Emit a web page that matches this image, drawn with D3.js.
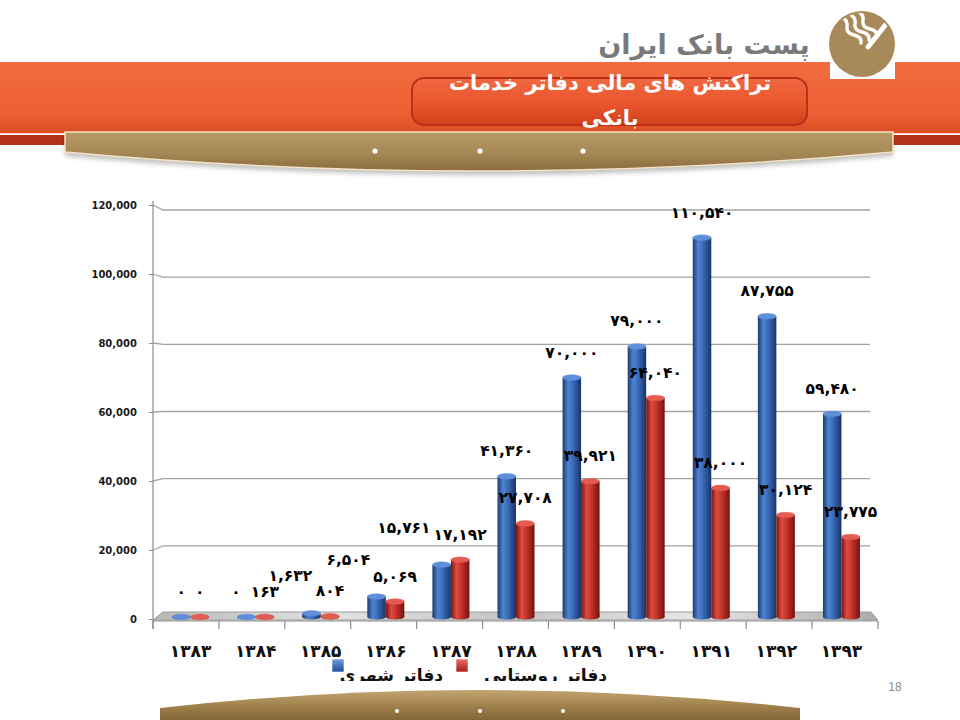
<!DOCTYPE html>
<html>
<head>
<meta charset="utf-8">
<script src="https://cdn.jsdelivr.net/npm/d3@7/dist/d3.min.js"></script>
<style>
  body { margin: 0; background: #fff; }
  svg { display: block; font-family: "DejaVu Sans", sans-serif; }
</style>
</head>
<body>
<div id="chart"></div>
<script>
// 1. Data
const years = ["1383", "1384", "1385", "1386", "1387", "1388", "1389", "1390", "1391", "1392", "1393"];
const urban = [0, 0, 1632, 6504, 15761, 41360, 70000, 79000, 110540, 87755, 59480];   // blue
const rural = [0, 163, 804, 5069, 17192, 27708, 39921, 64040, 38000, 30124, 23775];   // red
const yTicks = [0, 20000, 40000, 60000, 80000, 100000, 120000];
const seriesNames = ["دفاتر شهری", "دفاتر روستایی"];
const titleLines = ["تراکنش های مالی دفاتر خدمات", "بانکی"];
const brandName = "پست بانک ایران";
const pageNo = "18";

const faDigits = "۰۱۲۳۴۵۶۷۸۹";
const toFa = s => String(s).replace(/\d/g, d => faDigits[d]);
const fmt = d3.format(",");

const W = 960, H = 720;
const svg = d3.select("#chart").append("svg")
    .attr("width", W)
    .attr("height", H);

const defs = svg.append("defs");

function linGrad(id, horizontal, stops) {
    const g = defs.append("linearGradient").attr("id", id)
        .attr("x1", 0).attr("y1", 0)
        .attr("x2", horizontal ? 1 : 0).attr("y2", horizontal ? 0 : 1);
    stops.forEach(s => g.append("stop").attr("offset", s[0]).attr("stop-color", s[1]));
}
linGrad("band", false, [[0, "#F26C3F"], [0.7, "#EC5F34"], [1, "#DC4C24"]]);
linGrad("titleBox", false, [[0, "#F06840"], [0.55, "#E9562E"], [1, "#D2401A"]]);
linGrad("tan", false, [[0, "#B99A66"], [0.5, "#A88A57"], [1, "#8A6C3E"]]);
linGrad("tanFoot", false, [[0, "#C2A472"], [0.45, "#A4844F"], [1, "#7E6134"]]);
linGrad("blueBar", true, [[0, "#1B3B72"], [0.3, "#4F83D0"], [0.55, "#3A6CBA"], [1, "#183466"]]);
linGrad("redBar", true, [[0, "#7A1310"], [0.3, "#DE4B41"], [0.55, "#C6342B"], [1, "#74120E"]]);
linGrad("floor", true, [[0, "#B8B8B8"], [0.25, "#E2E2E2"], [0.5, "#C4C4C4"], [0.75, "#E6E6E6"], [1, "#ABABAB"]]);
linGrad("blueKey", false, [[0, "#6E9BE0"], [1, "#1F4E9A"]]);
linGrad("redKey", false, [[0, "#EE7068"], [1, "#A61D16"]]);

const blur = defs.append("filter").attr("id", "soft").attr("x", "-5%").attr("y", "-20%").attr("width", "110%").attr("height", "160%");
blur.append("feGaussianBlur").attr("stdDeviation", 2.5);

// 2. Slide header
svg.append("rect").attr("x", 0).attr("y", 62).attr("width", W).attr("height", 72).attr("fill", "url(#band)");
svg.append("line").attr("x1", 0).attr("x2", W).attr("y1", 134).attr("y2", 134).attr("stroke", "#fff").attr("stroke-width", 1.5);
svg.append("rect").attr("x", 0).attr("y", 135).attr("width", W).attr("height", 10).attr("fill", "#B3301A");

// logo
svg.append("rect").attr("x", 830).attr("y", 62).attr("width", 65).attr("height", 17).attr("fill", "#fff");
svg.append("circle").attr("cx", 862).attr("cy", 44).attr("r", 33).attr("fill", "#A8895A");
defs.append("clipPath").attr("id", "logoClip").append("circle").attr("cx", 862).attr("cy", 44).attr("r", 31);
const logo = svg.append("g").attr("clip-path", "url(#logoClip)")
    .attr("fill", "none").attr("stroke", "#fff").attr("stroke-linecap", "round");
[0, 1, 2].forEach(i => {
    logo.append("path")
        .attr("d", `M${843 + i * 8},${18 - i * 3} q5,3 4,9 t7,8 t7,8`)
        .attr("stroke-width", 3.4);
});
logo.append("path").attr("d", "M868,47 L887,23").attr("stroke-width", 5);

svg.append("text")
    .attr("x", 704).attr("y", 44)
    .attr("text-anchor", "middle").attr("dominant-baseline", "central")
    .attr("font-size", 27).attr("font-weight", "bold").attr("fill", "#7A7A7A")
    .text(brandName);

// title box
svg.append("rect")
    .attr("x", 412).attr("y", 78).attr("width", 395).attr("height", 47).attr("rx", 12)
    .attr("fill", "url(#titleBox)").attr("stroke", "#B8301A").attr("stroke-width", 2);
titleLines.forEach((t, i) => {
    svg.append("text")
        .attr("x", 610).attr("y", 83 + i * 35)
        .attr("text-anchor", "middle").attr("dominant-baseline", "central")
        .attr("font-size", 21).attr("font-weight", "bold").attr("fill", "#fff")
        .text(t);
});

// tan banner with dots
const bannerPath = "M65,132 L893,132 L893,152 Q479,190 65,152 Z";
svg.append("path").attr("d", bannerPath).attr("transform", "translate(0,4)").attr("fill", "#000").attr("opacity", 0.25).attr("filter", "url(#soft)");
svg.append("path").attr("d", bannerPath).attr("fill", "url(#tan)").attr("stroke", "#F3E3C3").attr("stroke-width", 1.5);
[375, 480, 583].forEach(x => svg.append("circle").attr("cx", x).attr("cy", 151).attr("r", 2.6).attr("fill", "#fff"));

// footer
const footPath = "M160,722 L160,708 Q480,672 800,708 L800,722 Z";
svg.append("path").attr("d", footPath).attr("fill", "url(#tanFoot)");
[397, 480, 563].forEach(x => svg.append("circle").attr("cx", x).attr("cy", 711).attr("r", 2).attr("fill", "#fff"));
svg.append("text").attr("x", 895).attr("y", 687)
    .attr("text-anchor", "middle").attr("dominant-baseline", "central")
    .attr("font-size", 12).attr("fill", "#8A8A8A").attr("font-family", "Liberation Sans, sans-serif")
    .text(pageNo);

// 3. Scales
const xFront = d3.scaleBand().domain(years).range([153, 878]);   // front edge of the floor
const xMid = d3.scaleBand().domain(years).range([158, 874]);     // plane the bars stand on
const xSeries = d3.scaleBand().domain([0, 1]).range([-18.5, 18.5]);
const y = d3.scaleLinear().domain([0, 120000]).range([619, 205]);
const floorY = 617;

// 4. Gridlines and y axis
const grid = svg.append("g").attr("stroke", "#A3A3A3").attr("stroke-width", 1.3).attr("fill", "none");
yTicks.filter(v => v > 0).forEach(v => {
    const slant = -6 + 11 * v / 120000;
    grid.append("path").attr("d", `M153,${y(v)} L163,${y(v) + slant} L870,${y(v) + slant}`);
});

const yAxis = d3.axisLeft(y).tickValues(yTicks).tickFormat(d3.format(",")).tickSize(4).tickPadding(12);
const yG = svg.append("g").attr("transform", "translate(153,0)").call(yAxis);
yG.select(".domain").remove();
yG.selectAll(".tick line").attr("stroke", "#8C8C8C");
yG.selectAll(".tick text").attr("font-size", 10).attr("font-weight", "bold").attr("fill", "#1A1A1A")
    .attr("font-family", "DejaVu Sans, sans-serif");
svg.append("line").attr("x1", 153).attr("x2", 153).attr("y1", 201).attr("y2", 629)
    .attr("stroke", "#8C8C8C").attr("stroke-width", 1.2);

// 5. Floor
svg.append("path")
    .attr("d", "M153,620 L878,620 L871,612 L163,612 Z")
    .attr("fill", "url(#floor)").attr("stroke", "#9A9A9A").attr("stroke-width", 1);
svg.append("line").attr("x1", 153).attr("x2", 878).attr("y1", 621).attr("y2", 621)
    .attr("stroke", "#8C8C8C").attr("stroke-width", 1.2);

// category boundary ticks
svg.append("g").selectAll("line")
    .data(years.concat(["end"]))
    .enter().append("line")
    .attr("x1", (d, i) => i < years.length ? xFront(d) : xFront.range()[1])
    .attr("x2", (d, i) => i < years.length ? xFront(d) : xFront.range()[1])
    .attr("y1", 621).attr("y2", 629)
    .attr("stroke", "#8C8C8C").attr("stroke-width", 1.2);

// x labels
const xAxis = d3.axisBottom(xMid).tickSize(0).tickPadding(0).tickFormat(toFa);
const xG = svg.append("g").attr("transform", "translate(0,645)").call(xAxis);
xG.select(".domain").remove();
xG.selectAll(".tick text").attr("font-size", 17).attr("font-weight", "bold").attr("fill", "#111")
    .attr("font-family", "DejaVu Sans, sans-serif");

// 6. Cylinder bars
const series = [
    { values: urban, fill: "url(#blueBar)", cap: "#5F8FDA" },
    { values: rural, fill: "url(#redBar)", cap: "#E35B51" }
];
const bars = svg.append("g");
const labels = [];
series.forEach((s, si) => {
    const g = bars.append("g");
    const data = years.map((yr, i) => ({ yr, v: s.values[i], i }));
    const cx = d => xMid(d.yr) + xMid.bandwidth() / 2 + xSeries(si) + xSeries.bandwidth() / 2;
    const bw = xSeries.bandwidth();
    const top = d => Math.min(y(d.v), floorY);

    g.selectAll(".base").data(data).enter().append("ellipse")
        .attr("cx", cx).attr("cy", floorY).attr("rx", bw / 2).attr("ry", 2.5)
        .attr("fill", s.fill);
    g.selectAll(".body").data(data).enter().append("rect")
        .attr("x", d => cx(d) - bw / 2).attr("y", top)
        .attr("width", bw).attr("height", d => floorY - top(d))
        .attr("fill", s.fill);
    g.selectAll(".cap").data(data).enter().append("ellipse")
        .attr("cx", cx).attr("cy", top).attr("rx", bw / 2).attr("ry", 2.8)
        .attr("fill", s.cap).attr("stroke", s.cap).attr("stroke-width", 0.5);

    labels[si] = svg.append("g").selectAll("text").data(data).enter().append("text")
        .attr("x", cx)
        .attr("y", d => top(d) - 25)
        .attr("text-anchor", "middle").attr("dominant-baseline", "central")
        .attr("font-size", 15.5).attr("font-weight", "bold").attr("fill", "#000")
        .text(d => toFa(fmt(d.v)));
});

// push a blue label left when it runs into the red one of the same year
labels[0].each(function (d, i) {
    const red = labels[1].nodes()[i];
    const b = this.getBBox(), r = red.getBBox();
    const overlapX = b.x + b.width - r.x;
    const overlapY = Math.min(b.y + b.height, r.y + r.height) - Math.max(b.y, r.y);
    if (overlapX > 0 && overlapY > 0) {
        const dx = r.x - (overlapX > 8 ? 3 : 10) - (b.x + b.width);
        const dy = overlapX > 8 ? -12 : 0;
        d3.select(this).attr("x", +d3.select(this).attr("x") + dx)
            .attr("y", +d3.select(this).attr("y") + dy);
    }
});

// 7. Legend (text clipped at the bottom like the slide)
defs.append("clipPath").attr("id", "legendClip").append("rect")
    .attr("x", 300).attr("y", 650).attr("width", 340).attr("height", 31);
const legend = svg.append("g").attr("clip-path", "url(#legendClip)");
const keys = [
    { x: 332, end: 443, fill: "url(#blueKey)" },
    { x: 456, end: 607, fill: "url(#redKey)" }
];
keys.forEach((k, i) => {
    legend.append("rect").attr("x", k.x).attr("y", 659).attr("width", 12).attr("height", 13)
        .attr("fill", k.fill).attr("stroke", "#fff").attr("stroke-width", 0.6);
    legend.append("text")
        .attr("x", k.end).attr("y", 675)
        .attr("text-anchor", "end").attr("dominant-baseline", "central")
        .attr("font-size", 17).attr("font-weight", "bold").attr("fill", "#111")
        .text(seriesNames[i]);
});
</script>
</body>
</html>
